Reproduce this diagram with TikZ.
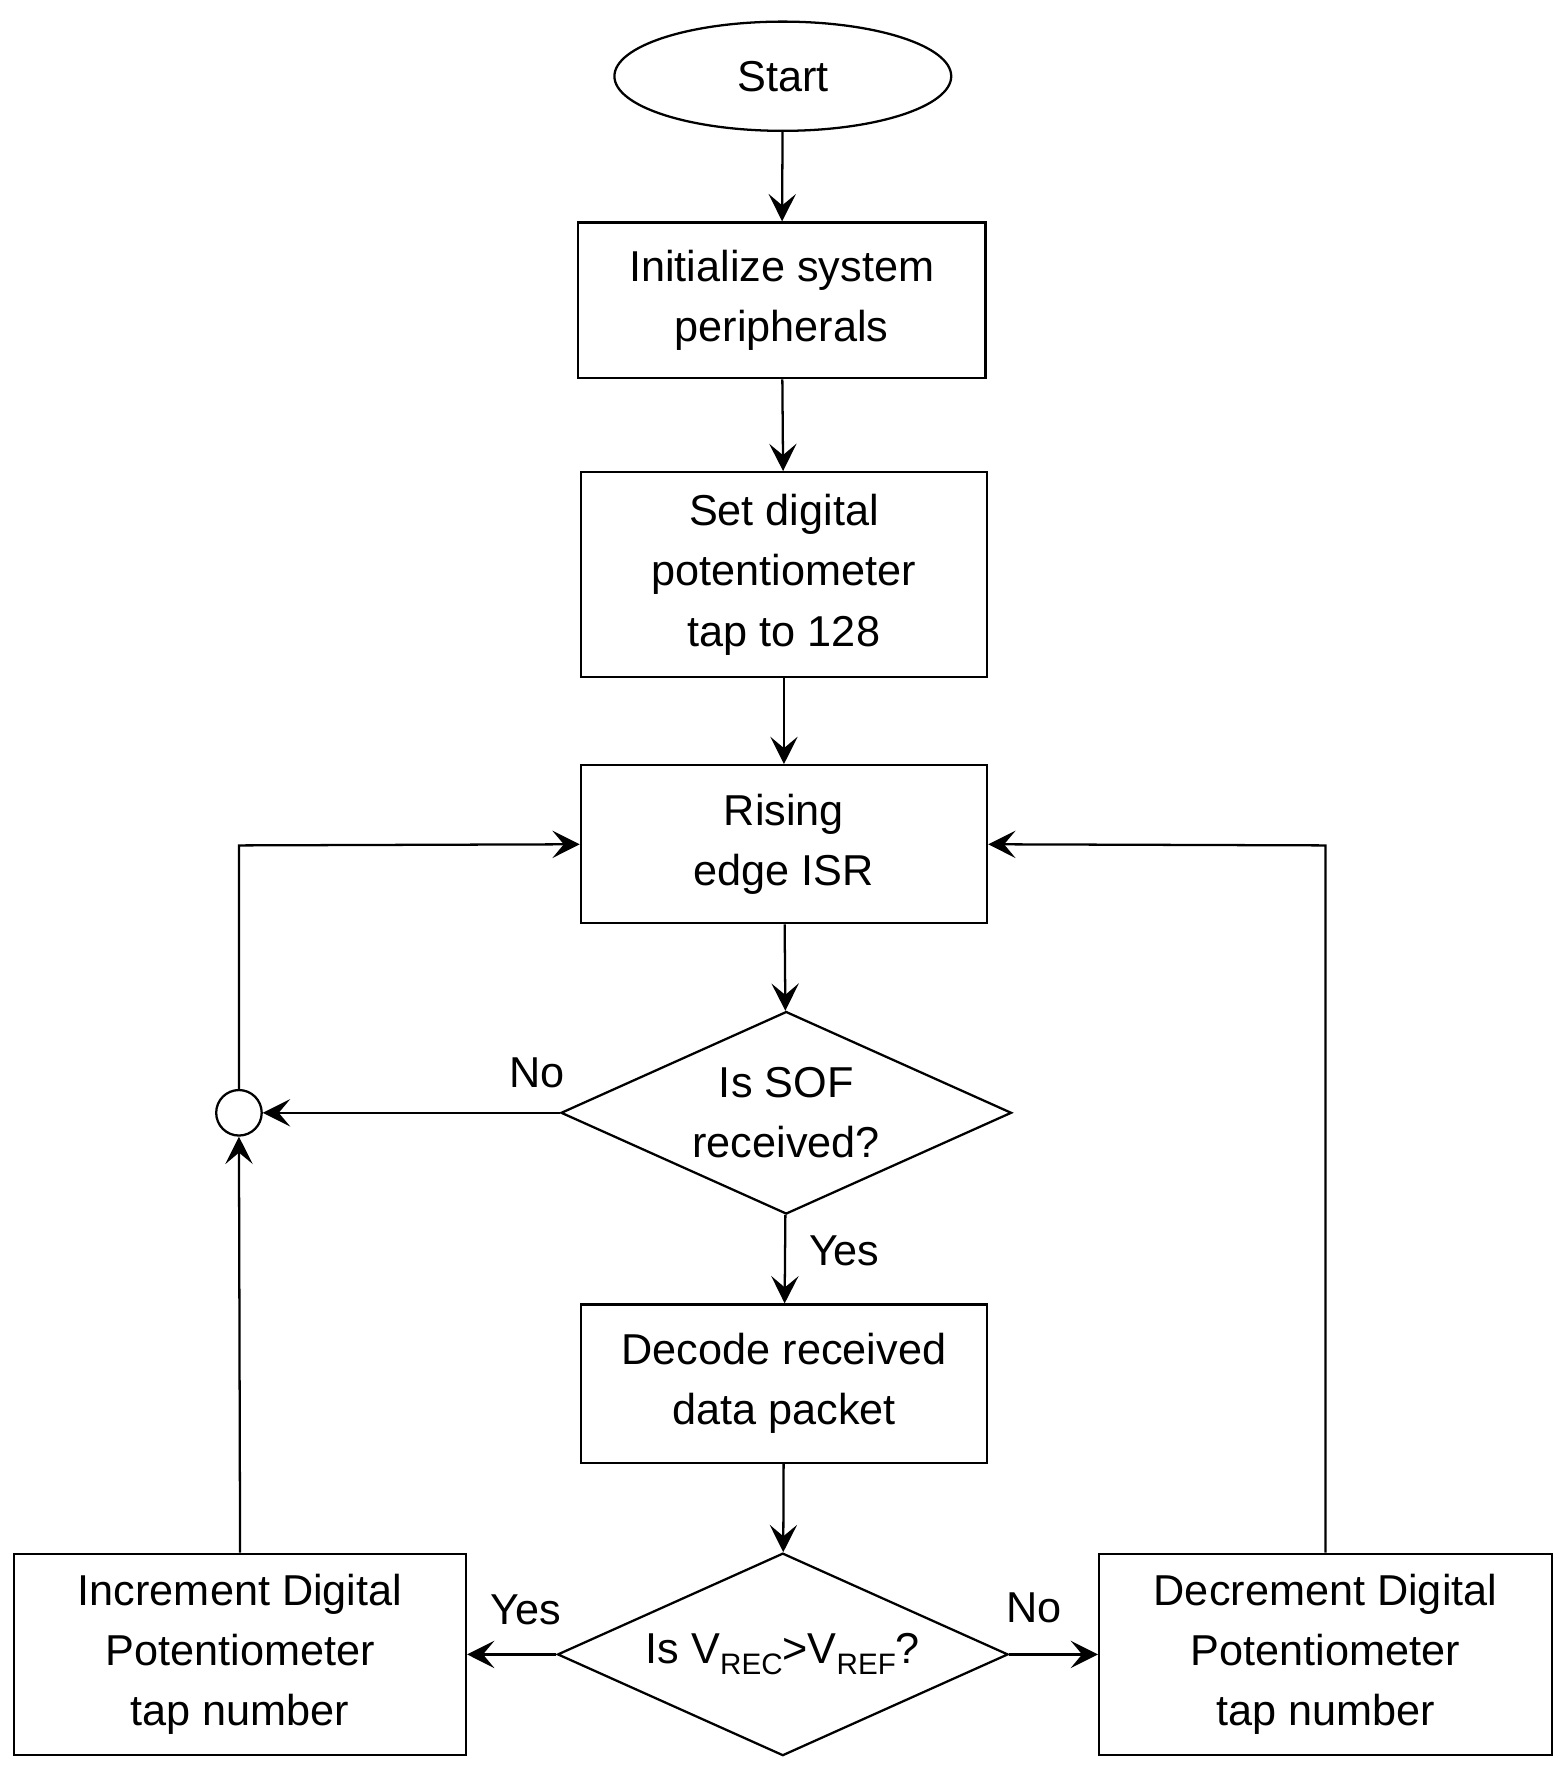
\documentclass[tikz,border=0pt]{standalone}
\usepackage{fontspec}
\setmainfont{Liberation Sans}
\usetikzlibrary{shapes.geometric,arrows.meta}
\newcommand{\sbs}[1]{\raisebox{-0.25em}{\fontsize{26}{26}\selectfont #1}}
\begin{document}
\begin{tikzpicture}[x=1pt,y=-1pt,
  every node/.style={font=\fontsize{38}{53}\selectfont},
  box/.style={draw,line width=2pt,align=center,inner sep=0pt},
  dia/.style={draw,line width=2pt,diamond,aspect=2.22,inner sep=0pt,minimum width=396pt,minimum height=178pt,align=center},
  arr/.style={line width=2pt,-{Stealth[length=24pt,width=24pt,inset=10pt]}},
  ln/.style={line width=2pt}]
\useasboundingbox (0,0) rectangle (1378,1560);
\node[draw,line width=2pt,ellipse,minimum width=296pt,minimum height=96pt] (start) at (688,67) {Start};
\node[box,minimum width=358pt,minimum height=137pt] (init) at (687,264) {Initialize system\\peripherals};
\node[box,minimum width=357pt,minimum height=180pt] (set) at (689,505) {Set digital\\potentiometer\\tap to 128};
\node[box,minimum width=357pt,minimum height=139pt] (isr) at (689,742) {Rising\\edge ISR};
\node[dia] (sof) at (691,978) {Is SOF\\received?};
\node[draw,line width=2pt,circle,minimum size=40pt,inner sep=0pt] (c) at (210,978) {};
\node[box,minimum width=357pt,minimum height=139pt] (dec) at (689,1216) {Decode received\\data packet};
\node[dia] (cmp) at (688,1454) {Is V\sbs{REC}>V\sbs{REF}?};
\node[box,minimum width=397pt,minimum height=177pt] (inc) at (211,1454) {Increment Digital\\Potentiometer\\tap number};
\node[box,minimum width=398pt,minimum height=177pt] (decr) at (1165,1454) {Decrement Digital\\Potentiometer\\tap number};
\coordinate (tl) at (210,743);
\coordinate (tr) at (1165,743);
\draw[arr] (start) -- (init);
\draw[arr] (init) -- (set);
\draw[arr] (set) -- (isr);
\draw[arr] (isr) -- (sof);
\draw[arr] (sof) -- (dec);
\draw[arr] (dec) -- (cmp);
\draw[arr] (sof.west) -- (c.east);
\draw[arr] (inc.north) -- (c.south);
\draw[arr] (c.north) -- (tl) -- (isr.west);
\draw[arr] (decr.north) -- (tr) -- (isr.east);
\draw[arr] (cmp.west) -- (inc.east);
\draw[arr] (cmp.east) -- (decr.west);
\node (n1) at (472,943) {No};
\node (y1) at (742,1099) {Yes};
\node (y2) at (462,1415) {Yes};
\node (n2) at (909,1413) {No};
\end{tikzpicture}
\end{document}
